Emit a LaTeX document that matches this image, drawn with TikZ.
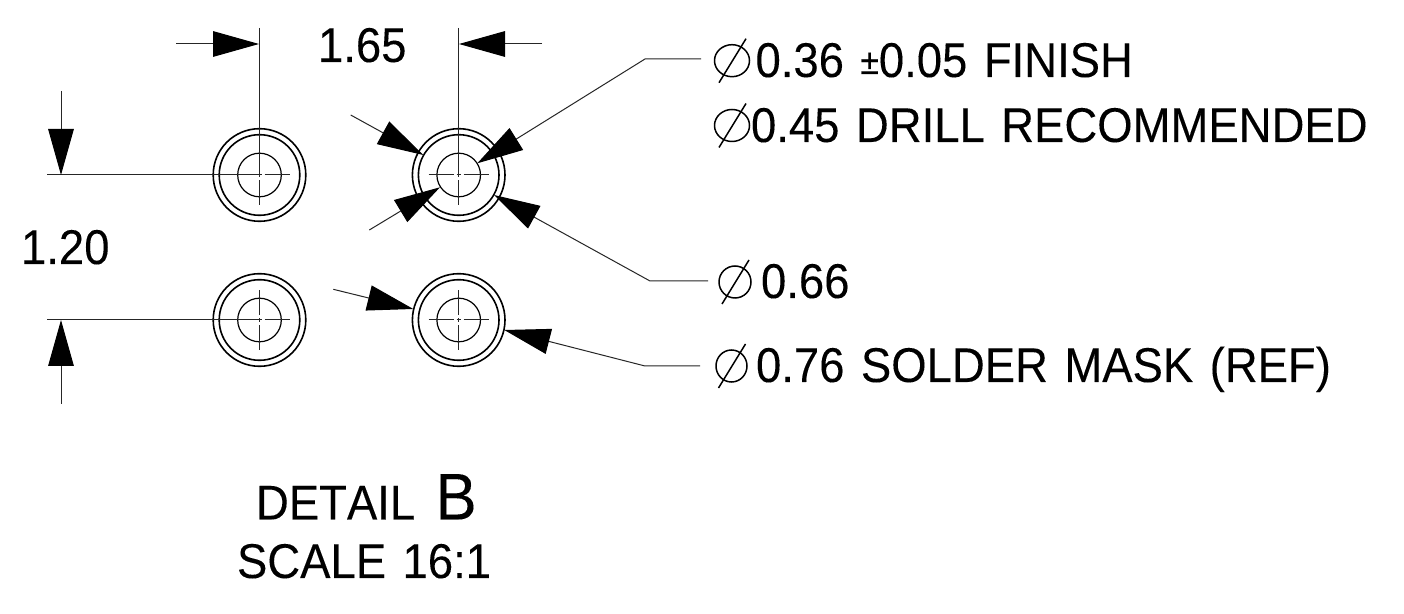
\documentclass[tikz,border=0pt]{standalone}
\usepackage{fontspec}
\setmainfont[FakeStretch=0.932,WordSpace=1.3,FakeBold=0.12,RawFeature=-kern]{Liberation Sans}
\usetikzlibrary{arrows.meta}
\tikzset{
  x=0.5pt,y=-0.5pt,
  thinln/.style={line width=0.5pt,black!85},
  ring/.style={line width=0.8pt},
  hole/.style={line width=0.6pt},
  lbl/.style={anchor=base west,inner sep=0pt,outer sep=0pt,font=\fontsize{24.4pt}{28pt}\selectfont},
  dimarrow/.style={thinln,-{Triangle[length=23pt,width=12.8pt,inset=0pt,black]}},
  dia/.style={line width=0.75pt},
}
\newcommand{\padview}[1]{%
  \draw[ring] (#1) circle[radius=46.3];
  \draw[ring] (#1) circle[radius=40.3];
  \draw[hole] (#1) circle[radius=21.8];
  \draw[thinln] ([xshift=-15pt]#1) -- ([xshift=-2.5pt]#1) ([xshift=-1pt]#1) -- ([xshift=1pt]#1) ([xshift=2.5pt]#1) -- ([xshift=15pt]#1);
  \draw[thinln] ([yshift=-15pt]#1) -- ([yshift=-2.5pt]#1) ([yshift=-1pt]#1) -- ([yshift=1pt]#1) ([yshift=2.5pt]#1) -- ([yshift=15pt]#1);
}
\newcommand{\diasym}[3]{%
  \draw[dia] (#1,#2) ellipse[x radius=#3,y radius=16];
  \draw[dia] (#1+14,#2-22) -- (#1-13,#2+22);
}
\begin{document}
\begin{tikzpicture}
\useasboundingbox[fill=white] (0,0) rectangle (1404,614);
% centres
\coordinate (tl) at (259.5,175);
\coordinate (tr) at (458.7,175);
\coordinate (bl) at (259.5,320);
\coordinate (br) at (458.7,320);
\padview{tl}\padview{tr}\padview{bl}\padview{br}
% extension lines
\coordinate (extA) at (259.5,28);
\coordinate (extB) at (458.7,28);
\coordinate (extC) at (47,175);
\coordinate (extD) at (47,320);
\draw[thinln] (extA) -- (tl);
\draw[thinln] (extB) -- (tr);
\draw[thinln] (extC) -- (tl);
\draw[thinln] (extD) -- (bl);
% horizontal dimension
\coordinate (d1s) at (176,44); \coordinate (d1t) at (259,44);
\coordinate (d2s) at (542,44); \coordinate (d2t) at (459,44);
\draw[dimarrow] (d1s) -- (d1t);
\draw[dimarrow] (d2s) -- (d2t);
% vertical dimension
\coordinate (d3s) at (61,91);  \coordinate (d3t) at (61,175);
\coordinate (d4s) at (61,404); \coordinate (d4t) at (61,320);
\draw[dimarrow] (d3s) -- (d3t);
\draw[dimarrow] (d4s) -- (d4t);
% leaders
\coordinate (la0) at (701,59);  \coordinate (la1) at (645,59);  \coordinate (lat) at (477.3,163.3);
\draw[dimarrow] (la0) -- (la1) -- (lat);
\coordinate (lbs) at (350.7,115);   \coordinate (lbt) at (423.3,155);
\draw[dimarrow] (lbs) -- (lbt);
\coordinate (lcs) at (369.3,230);   \coordinate (lct) at (440,187.3);
\draw[dimarrow] (lcs) -- (lct);
\coordinate (ld0) at (708,281); \coordinate (ld1) at (650,281); \coordinate (ldt) at (494,195);
\draw[dimarrow] (ld0) -- (ld1) -- (ldt);
\coordinate (les) at (333.3,289.3); \coordinate (let) at (413.3,309);
\draw[dimarrow] (les) -- (let);
\coordinate (lf0) at (700,366); \coordinate (lf1) at (645,366); \coordinate (lft) at (504.3,330);
\draw[dimarrow] (lf0) -- (lf1) -- (lft);
% labels
\node[lbl] (t165) at (318,62) {1.65};
\node[lbl] (t120) at (21,264) {1.20};
\diasym{732}{60.7}{17.5}
\node[lbl] (t036) at (755.5,77) {0.36 \hspace{0pt}{\fontsize{18pt}{20pt}\selectfont\raisebox{1.5pt}{±}}\hspace{0pt}0.05 FINISH};
\diasym{732}{125.5}{17.5}
\node[lbl] (t045) at (751,142) {0.45 DRILL RECOMMENDED};
\diasym{735}{282}{16}
\node[lbl] (t066) at (761,298) {0.66};
\diasym{731.5}{366}{15.5}
\node[lbl] (t076) at (756,382) {0.76 SOLDER MASK (REF)};
\node[lbl] (tdet) at (256,519.5) {DETAIL \hspace{2pt}{\fontsize{33pt}{36pt}\selectfont B}};
\node[lbl] (tsca) at (237,578) {SCALE 16:1};
\end{tikzpicture}
\end{document}
